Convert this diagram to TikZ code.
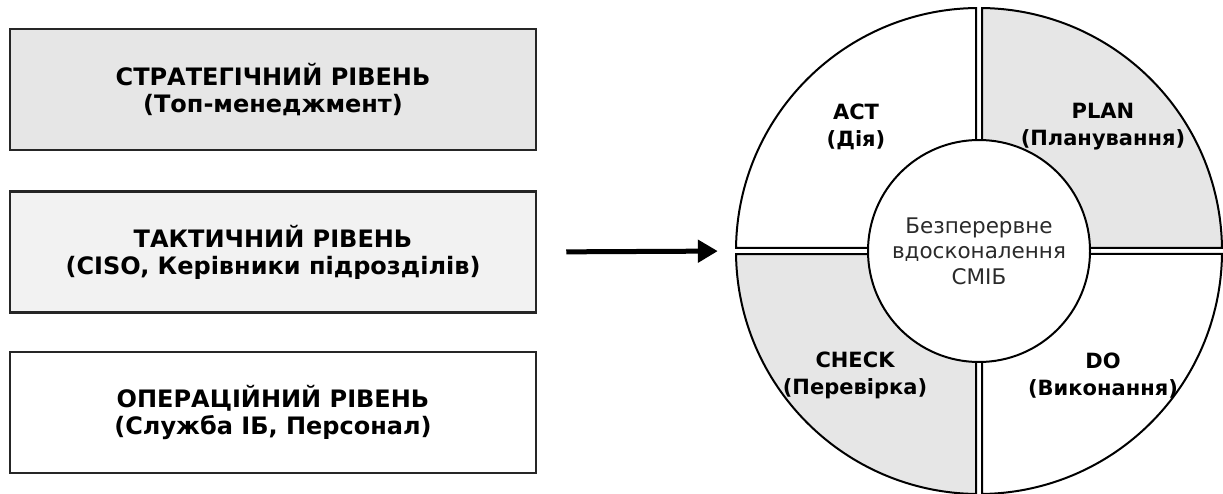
\documentclass[tikz,border=0pt]{standalone}
\usepackage{fontspec}
\setmainfont{DejaVu Sans}
\usetikzlibrary{arrows.meta,calc}
\definecolor{lightfill}{HTML}{E6E6E6}
\definecolor{paler}{HTML}{F2F2F2}
\definecolor{midtext}{HTML}{2A2A2A}
\tikzset{
  levelbox/.style={draw=black!85, line width=2.5pt, minimum width=526pt, minimum height=121pt, inner sep=0pt, align=center, font=\bfseries\fontsize{24}{27}\selectfont},
  seg/.style={draw=black, line width=2pt},
  seglabel/.style={align=center, font=\bfseries\fontsize{21}{27}\selectfont, inner sep=0pt},
}
\begin{document}
\begin{tikzpicture}[x=1pt,y=1pt]
\useasboundingbox (0,0) rectangle (1223,493);
% level boxes
\node[levelbox, fill=lightfill] (str) at (273,403.5) {СТРАТЕГІЧНИЙ РІВЕНЬ\\(Топ-менеджмент)};
\node[levelbox, fill=paler] (tac) at (273,241) {ТАКТИЧНИЙ РІВЕНЬ\\(CISO, Керівники підрозділів)};
\node[levelbox, fill=white] (ops) at (273,80.5) {ОПЕРАЦІЙНИЙ РІВЕНЬ\\(Служба ІБ, Персонал)};
% PDCA cycle
\coordinate (c) at (979,242);
\node[circle, minimum size=486pt, inner sep=0pt] (cyc) at (c) {};
\def\R{243}
\def\g{3}
\def\L{242.98}
\def\a{0.707}
% PLAN (upper right)
\draw[seg, fill=lightfill] ($(c)+(\g,\g)$) -- ($(c)+(\g,\L)$) arc[start angle={90-\a}, end angle={\a}, radius=\R] -- cycle;
% ACT (upper left)
\draw[seg, fill=white] ($(c)+(-\g,\g)$) -- ($(c)+(-\L,\g)$) arc[start angle={180-\a}, end angle={90+\a}, radius=\R] -- cycle;
% CHECK (lower left)
\draw[seg, fill=lightfill] ($(c)+(-\g,-\g)$) -- ($(c)+(-\g,-\L)$) arc[start angle={270-\a}, end angle={180+\a}, radius=\R] -- cycle;
% DO (lower right)
\draw[seg, fill=white] ($(c)+(\g,-\g)$) -- ($(c)+(\L,-\g)$) arc[start angle={360-\a}, end angle={270+\a}, radius=\R] -- cycle;
% centre
\node[circle, draw=black, line width=2pt, fill=white, minimum size=222pt, inner sep=0pt, align=center, text=midtext, font=\fontsize{21.5}{25.5}\selectfont] (core) at (c) {Безперервне\\вдосконалення\\СМІБ};
% labels
\node[seglabel] (act) at (856,366.5) {ACT\\(Дія)};
\node[seglabel] (plan) at (1103,366.5) {PLAN\\(Планування)};
\node[seglabel] (check) at (855,117.5) {CHECK\\(Перевірка)};
\node[seglabel] (do) at (1103,117.5) {DO\\(Виконання)};
% arrow
\draw[line width=5pt, -{Triangle[length=20pt,width=22pt]}, shorten <=29pt, shorten >=18pt] (tac.east) -- (cyc.west);
\end{tikzpicture}
\end{document}
